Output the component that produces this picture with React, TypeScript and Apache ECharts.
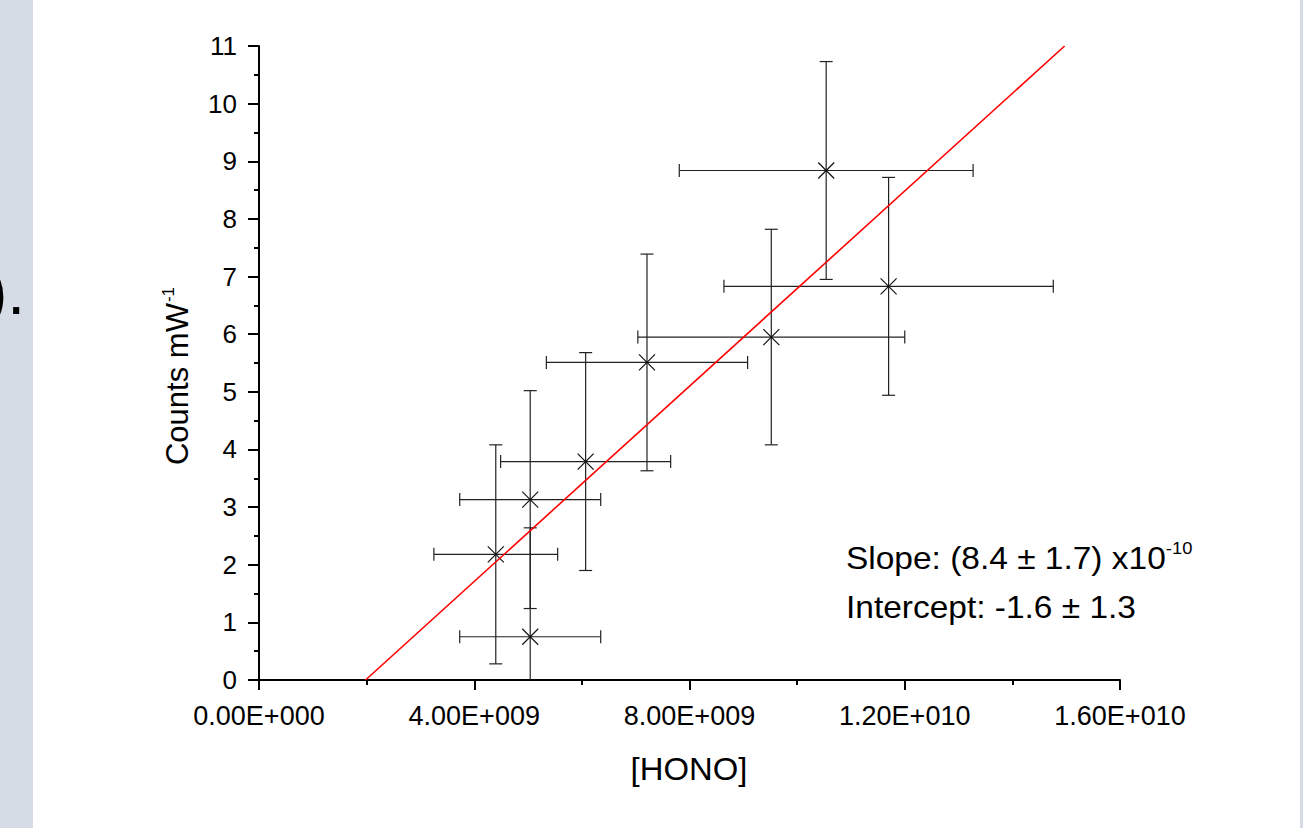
import React, { useEffect, useRef } from "react";
import * as echarts from "echarts";

// [HONO] (x) values, counts (y) values and their error half-widths
const honoValues = [4.4e9, 5.04e9, 5.04e9, 6.07e9, 7.21e9, 9.52e9, 10.54e9, 11.7e9];
const countValues = [2.18, 3.13, 0.75, 3.79, 5.51, 5.95, 8.84, 6.83];
const honoErrors = [1.15e9, 1.31e9, 1.31e9, 1.58e9, 1.87e9, 2.48e9, 2.73e9, 3.06e9];
const countErrors = [1.9, 1.89, 1.89, 1.89, 1.88, 1.87, 1.89, 1.89];

// linear fit line end points (x, y)
const fitStart = [1.98e9, 0];
const fitEnd = [1.497e10, 11];

const xAxisMin = 0;
const xAxisMax = 1.6e10;
const xAxisStep = 4e9;
const yAxisMin = 0;
const yAxisMax = 11;
const yAxisStep = 1;

const xAxisTitle = "[HONO]";
const yAxisTitle = "Counts mW";
const yAxisTitleSup = "-1";
const slopeText = "Slope: (8.4 \u00B1 1.7) x10";
const slopeSup = "-10";
const interceptText = "Intercept: -1.6 \u00B1 1.3";
const sideText = ").";

const FONT = '"Liberation Sans", Arial, Helvetica, sans-serif';

function formatSci(v: number): string {
  if (v === 0) return "0.00E+000";
  const e = Math.floor(Math.log10(Math.abs(v)) + 1e-9);
  const m = v / Math.pow(10, e);
  const es = String(Math.abs(e)).padStart(3, "0");
  return m.toFixed(2) + "E" + (e >= 0 ? "+" : "-") + es;
}

export default function App() {
  const ref = useRef<HTMLDivElement>(null);
  useEffect(() => {
    document.body.style.margin = "0";
    if (!ref.current) return;
    const chart = echarts.init(ref.current, undefined, { renderer: "svg" });
    const errData = honoValues.map((x, i) => [x, countValues[i], honoErrors[i], countErrors[i]]);
    const option: any = {
      animation: false,
      backgroundColor: "#ffffff",
      grid: { left: 259, top: 46, width: 861, height: 634, containLabel: false },
      xAxis: {
        type: "value",
        min: xAxisMin,
        max: xAxisMax,
        interval: xAxisStep,
        axisLine: { show: true, onZero: false, lineStyle: { color: "#000", width: 2 } },
        axisTick: { show: true, inside: false, length: 10, lineStyle: { color: "#000", width: 2 } },
        minorTick: { show: true, splitNumber: 2, length: 5, lineStyle: { color: "#000", width: 2 } },
        splitLine: { show: false },
        minorSplitLine: { show: false },
        axisLabel: {
          color: "#000",
          fontFamily: FONT,
          fontSize: 27,
          margin: 22,
          formatter: (v: number) => formatSci(v),
        },
      },
      yAxis: {
        type: "value",
        min: yAxisMin,
        max: yAxisMax,
        interval: yAxisStep,
        axisLine: { show: true, onZero: false, lineStyle: { color: "#000", width: 2 } },
        axisTick: { show: true, inside: false, length: 11, lineStyle: { color: "#000", width: 2 } },
        minorTick: { show: true, splitNumber: 2, length: 5, lineStyle: { color: "#000", width: 2 } },
        splitLine: { show: false },
        minorSplitLine: { show: false },
        axisLabel: { color: "#000", fontFamily: FONT, fontSize: 26, margin: 22 },
      },
      graphic: [
        { type: "rect", shape: { x: 0, y: 0, width: 33, height: 828 }, style: { fill: "#d5dce6" }, z: -10 },
        { type: "rect", shape: { x: 1300, y: 0, width: 3, height: 828 }, style: { fill: "#d5dce6" }, z: -10 },
        {
          type: "text",
          x: -14,
          y: 292,
          style: { text: sideText, fontSize: 64, fontFamily: FONT, fill: "#000", verticalAlign: "middle" },
        },
        {
          type: "text",
          x: 689,
          y: 769,
          scaleX: 1.06,
          style: { text: xAxisTitle, fontSize: 31, fontFamily: FONT, fill: "#000", align: "center", verticalAlign: "middle" },
        },
        {
          type: "text",
          x: 177,
          y: 376,
          rotation: Math.PI / 2,
          style: {
            text: "{n|" + yAxisTitle + "}{s|" + yAxisTitleSup + "}",
            align: "center",
            verticalAlign: "middle",
            fill: "#000",
            rich: {
              n: { fontSize: 31, fontFamily: FONT, fill: "#000", lineHeight: 34 },
              s: { fontSize: 17, fontFamily: FONT, fill: "#000", verticalAlign: "top", lineHeight: 34, padding: [0, 0, 0, 1] },
            },
          },
        },
        {
          type: "text",
          x: 846,
          y: 558,
          scaleX: 1.08,
          style: {
            text: "{n|" + slopeText + "}{s|" + slopeSup + "}",
            verticalAlign: "middle",
            fill: "#000",
            rich: {
              n: { fontSize: 31, fontFamily: FONT, fill: "#000", lineHeight: 36 },
              s: { fontSize: 17, fontFamily: FONT, fill: "#000", verticalAlign: "top", lineHeight: 36 },
            },
          },
        },
        {
          type: "text",
          x: 846,
          y: 607,
          scaleX: 1.08,
          style: { text: interceptText, fontSize: 31, fontFamily: FONT, fill: "#000", verticalAlign: "middle" },
        },
      ],
      series: [
        {
          type: "custom",
          clip: true,
          data: errData,
          encode: { x: 0, y: 1 },
          renderItem: (params: any, api: any) => {
            const x = api.value(0);
            const y = api.value(1);
            const ex = api.value(2);
            const ey = api.value(3);
            const c = api.coord([x, y]);
            const l = api.coord([x - ex, y]);
            const r = api.coord([x + ex, y]);
            const t = api.coord([x, y + ey]);
            const b = api.coord([x, y - ey]);
            const cap = 6.5;
            const m = 8;
            const st = { stroke: "#222", lineWidth: 1.2 };
            const mk = { stroke: "#111", lineWidth: 1.2 };
            const ln = (x1: number, y1: number, x2: number, y2: number, s: any) => ({
              type: "line",
              shape: { x1, y1, x2, y2 },
              style: s,
            });
            return {
              type: "group",
              children: [
                ln(l[0], c[1], r[0], c[1], st),
                ln(l[0], c[1] - cap, l[0], c[1] + cap, st),
                ln(r[0], c[1] - cap, r[0], c[1] + cap, st),
                ln(c[0], t[1], c[0], b[1], st),
                ln(c[0] - cap, t[1], c[0] + cap, t[1], st),
                ln(c[0] - cap, b[1], c[0] + cap, b[1], st),
                ln(c[0] - m, c[1] - m, c[0] + m, c[1] + m, mk),
                ln(c[0] - m, c[1] + m, c[0] + m, c[1] - m, mk),
              ],
            };
          },
          z: 3,
        },
        {
          type: "line",
          data: [fitStart, fitEnd],
          symbol: "none",
          lineStyle: { color: "#ff0000", width: 1.6 },
          z: 4,
        },
      ],
    };
    chart.setOption(option);
    return () => chart.dispose();
  }, []);
  return <div ref={ref} style={{ width: 1303, height: 828 }} />;
}
